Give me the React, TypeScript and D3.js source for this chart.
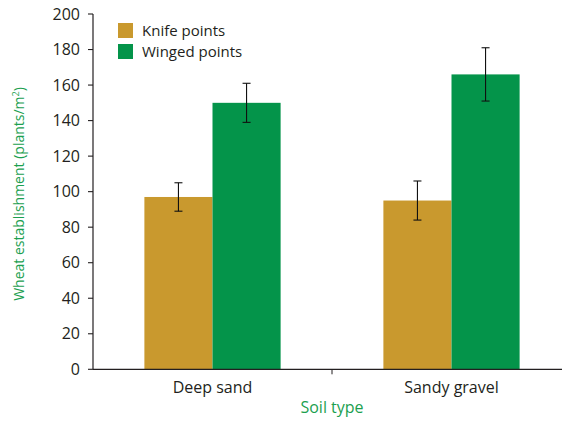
import { useMemo } from "react";
import * as d3 from "d3";

const soilTypes = ["Deep sand", "Sandy gravel"];
const seriesNames = ["Knife points", "Winged points"];
const knifeMeans = [97, 95];
const knifeLow = [89, 84];
const knifeHigh = [105, 106];
const wingedMeans = [150, 166];
const wingedLow = [139, 151];
const wingedHigh = [161, 181];
const yTicks = [0, 20, 40, 60, 80, 100, 120, 140, 160, 180, 200];

const COLORS = ["#C9992E", "#04944A"];
const LABEL_GREEN = "#1BA04F";
const INK = "#231f20";
const FONT = "'Open Sans', 'Noto Sans', sans-serif";

export default function App() {
  const width = 562;
  const height = 423;
  const margin = { left: 93, top: 14, bottom: 53 };

  const x = useMemo(
    () => d3.scaleBand<string>().domain(soilTypes).range([margin.left, 571]).padding(0),
    []
  );
  const y = useMemo(
    () => d3.scaleLinear().domain([0, 200]).range([height - margin.bottom - 0.7, margin.top]),
    []
  );

  // the pair of bars fills ~57% of each band
  const groupW = x.bandwidth() * 0.57;
  const barW = groupW / 2;

  const series = [
    { name: seriesNames[0], means: knifeMeans, low: knifeLow, high: knifeHigh },
    { name: seriesNames[1], means: wingedMeans, low: wingedLow, high: wingedHigh },
  ];

  const y0 = y(0);
  const split = x(soilTypes[1]) as number;

  return (
    <svg width={width} height={height} style={{ position: "absolute", left: 0, top: 0 }}>
      <rect width={width} height={height} fill="#fff" />
      {soilTypes.map((s, i) => {
        const cx = (x(s) as number) + x.bandwidth() / 2;
        const start = cx - groupW / 2;
        return (
          <g key={s}>
            {series.map((ser, j) => {
              const bx = start + j * barW;
              const mid = bx + barW / 2;
              return (
                <g key={ser.name}>
                  <rect
                    x={bx}
                    y={y(ser.means[i])}
                    width={barW}
                    height={y0 - y(ser.means[i])}
                    fill={COLORS[j]}
                  />
                  <line x1={mid} x2={mid} y1={y(ser.low[i])} y2={y(ser.high[i])} stroke="#111" strokeWidth={1.1} />
                  <line x1={mid - 4} x2={mid + 4} y1={y(ser.low[i])} y2={y(ser.low[i])} stroke="#111" strokeWidth={1.1} />
                  <line x1={mid - 4} x2={mid + 4} y1={y(ser.high[i])} y2={y(ser.high[i])} stroke="#111" strokeWidth={1.1} />
                </g>
              );
            })}
            <text x={cx} y={y0 + 24} textAnchor="middle" fontFamily={FONT} fontSize={16} fill={INK}>
              {s}
            </text>
          </g>
        );
      })}

      {/* y axis */}
      <line x1={margin.left} x2={margin.left} y1={y(200)} y2={y0} stroke={INK} strokeWidth={1.2} />
      {yTicks.map((t) => (
        <g key={t}>
          <line x1={margin.left - 5} x2={margin.left} y1={y(t)} y2={y(t)} stroke={INK} strokeWidth={1.1} />
          <text
            x={margin.left - 13}
            y={y(t)}
            dy="0.35em"
            textAnchor="end"
            fontFamily={FONT}
            fontSize={16}
            fill={INK}
          >
            {t}
          </text>
        </g>
      ))}

      {/* x axis */}
      <line x1={margin.left} x2={571} y1={y0} y2={y0} stroke={INK} strokeWidth={1.2} />
      <line x1={split} x2={split} y1={y0} y2={y0 + 5} stroke={INK} strokeWidth={1} />

      {/* axis titles */}
      <text x={split} y={y0 + 44} textAnchor="middle" fontFamily={FONT} fontSize={16} fill={LABEL_GREEN}>
        Soil type
      </text>
      <text
        transform={`translate(24, 194) rotate(-90)`}
        textAnchor="middle"
        fontFamily={FONT}
        fontSize={14}
        fill={LABEL_GREEN}
      >
        Wheat establishment (plants/m
        <tspan dy="-5" fontSize={9}>2</tspan>
        <tspan dy="5">)</tspan>
      </text>

      {/* legend */}
      {seriesNames.map((n, i) => (
        <g key={n} transform={`translate(118, ${23 + i * 21})`}>
          <rect width={15} height={15} fill={COLORS[i]} />
          <text x={24} y={8} dy="0.35em" fontFamily={FONT} fontSize={15} fill={INK}>
            {n}
          </text>
        </g>
      ))}
    </svg>
  );
}
